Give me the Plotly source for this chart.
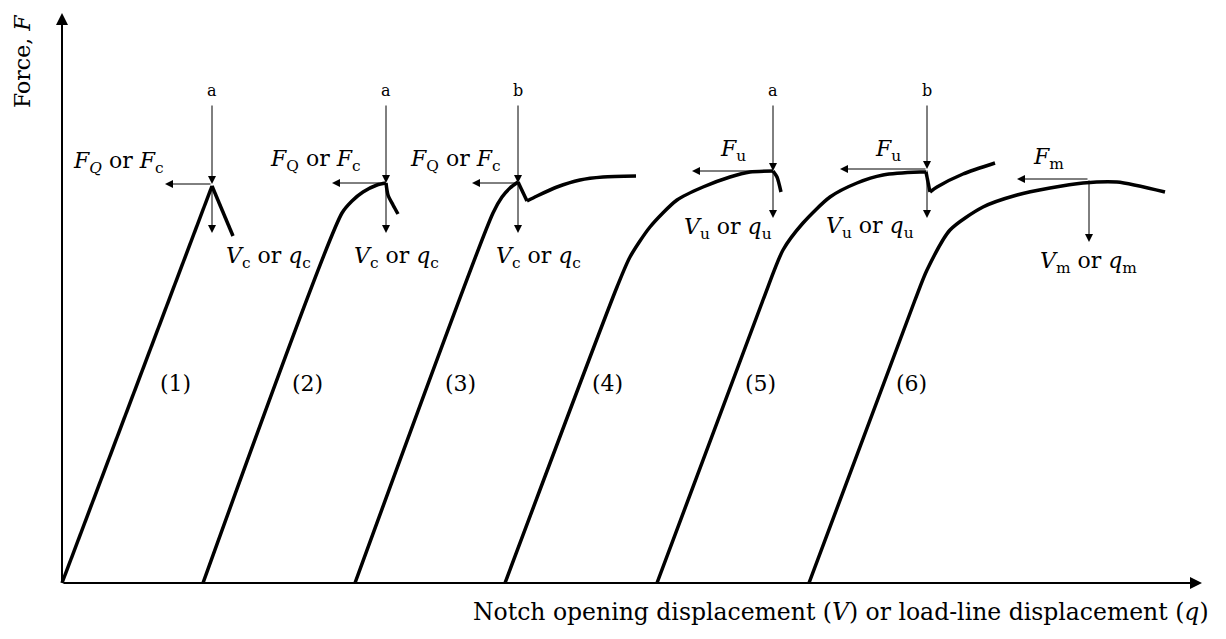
import plotly.graph_objects as go

# Schematic force–displacement curves (displacement, force) in arbitrary units
curve1_x = [0, 150, 171]
curve1_y = [0, 397, 347]
curve2_x = [141, 280, 290, 301, 315, 324, 326, 331, 336]
curve2_y = [0, 370, 382, 391, 398, 400, 388, 378, 369]
curve3_x = [293, 431, 440, 448, 456, 465, 475, 495, 518, 541, 574]
curve3_y = [0, 370, 386, 395, 401, 382, 387, 396, 403, 406, 407]
curve4_x = [443, 555, 568, 588, 615, 641, 668, 688, 711, 715, 719]
curve4_y = [0, 296, 326, 356, 383, 396, 406, 411, 412, 406, 391]
curve5_x = [595, 701, 721, 741, 768, 795, 821, 858, 864, 868, 875, 901, 933]
curve5_y = [0, 283, 333, 360, 386, 400, 408, 411, 411, 391, 396, 409, 420]
curve6_x = [747, 853, 865, 888, 921, 955, 988, 1021, 1055, 1103]
curve6_y = [0, 283, 313, 353, 376, 388, 395, 400, 401, 391]
# indices of sharp corners in each curve
curve_corners = [[1], [5], [4, 5], [8], [8, 9], []]

curve_labels = ["(1)", "(2)", "(3)", "(4)", "(5)", "(6)"]
curve_label_x = [113, 245, 398, 545, 698, 849]
curve_label_y = [200, 200, 200, 200, 200, 200]

# Critical points: x, force, marker letter
crit_x = [150, 324, 456, 711, 865]
crit_f = [399, 400, 400, 412, 414]
crit_letter = ["a", "a", "b", "a", "b"]
crit_left_end = [103, 270, 410, 630, 778]
crit_down_end = [350, 350, 350, 365, 365]
force_labels = ["<i>F<sub>Q</sub></i> or <i>F</i><sub>c</sub>",
                "<i>F</i><sub>Q</sub> or <i>F</i><sub>c</sub>",
                "<i>F</i><sub>Q</sub> or <i>F</i><sub>c</sub>",
                "<i>F</i><sub>u</sub>",
                "<i>F</i><sub>u</sub>"]
force_label_x = [56, 253, 393, 671, 826]
force_label_y = [421, 423, 423, 433, 433]
disp_labels = ["<i>V</i><sub>c</sub> or <i>q</i><sub>c</sub>",
               "<i>V</i><sub>c</sub> or <i>q</i><sub>c</sub>",
               "<i>V</i><sub>c</sub> or <i>q</i><sub>c</sub>",
               "<i>V</i><sub>u</sub> or <i>q</i><sub>u</sub>",
               "<i>V</i><sub>u</sub> or <i>q</i><sub>u</sub>"]
disp_label_x = [206, 334, 476, 666, 808]
disp_label_y = [326, 326, 326, 355, 356]

max_x = 1027
max_f = 404
max_left_end = 955
max_down_end = 341

FONT = "DejaVu Serif"
fig = go.Figure()
curves = [(curve1_x, curve1_y), (curve2_x, curve2_y), (curve3_x, curve3_y),
          (curve4_x, curve4_y), (curve5_x, curve5_y), (curve6_x, curve6_y)]
for (cx, cy), corners in zip(curves, curve_corners):
    bounds = [0] + corners + [len(cx) - 1]
    for a, b in zip(bounds[:-1], bounds[1:]):
        seg_x, seg_y = cx[a:b + 1], cy[a:b + 1]
        shape = "spline" if len(seg_x) > 2 else "linear"
        fig.add_trace(go.Scatter(x=seg_x, y=seg_y, mode="lines",
                                 line=dict(color="black", width=3.5, shape=shape, smoothing=0.7),
                                 hoverinfo="skip", showlegend=False))

ann = []
def arrow(x, y, ax, ay, width=1, size=1.6):
    ann.append(dict(x=x, y=y, ax=ax, ay=ay, xref="x", yref="y", axref="x", ayref="y",
                    text="", showarrow=True, arrowhead=2, arrowsize=size,
                    arrowwidth=width, arrowcolor="black"))

def label(x, y, t, size=22, **kw):
    ann.append(dict(x=x, y=y, xref="x", yref="y", text=t, showarrow=False,
                    font=dict(family=FONT, size=size, color="black"), **kw))

# axes
arrow(0, 570, 0, 0, width=2, size=1.2)
arrow(1140, 0, 0, 0, width=2, size=1.2)

for i in range(len(crit_x)):
    arrow(crit_x[i], crit_f[i], crit_x[i], 479)
    label(crit_x[i], 493, crit_letter[i], size=16)
    arrow(crit_left_end[i], crit_f[i], crit_x[i], crit_f[i])
    arrow(crit_x[i], crit_down_end[i], crit_x[i], crit_f[i])
    label(force_label_x[i], force_label_y[i], force_labels[i])
    label(disp_label_x[i], disp_label_y[i], disp_labels[i])

arrow(max_left_end, max_f, max_x, max_f)
arrow(max_x, max_down_end, max_x, max_f)
label(986, 425, "<i>F</i><sub>m</sub>")
label(1026, 321, "<i>V</i><sub>m</sub> or <i>q</i><sub>m</sub>")

for t, x, y in zip(curve_labels, curve_label_x, curve_label_y):
    label(x, y, t)

label(-40, 521, "Force, <i>F</i>", textangle=-90)
label(1149, -29, "Notch opening displacement (<i>V</i>) or load-line displacement (<i>q</i>)",
      xanchor="right", size=23.5)

# page body has an 8px margin: figure is 1210x623 so the page stays 1226x639
fig.update_layout(
    width=1210, height=623, margin=dict(l=0, r=0, t=0, b=0),
    paper_bgcolor="white", plot_bgcolor="white",
    xaxis=dict(range=[-54, 1156], visible=False, fixedrange=True),
    yaxis=dict(range=[-48, 575], visible=False, fixedrange=True),
    annotations=ann, showlegend=False,
)
fig.write_html("out.html")
